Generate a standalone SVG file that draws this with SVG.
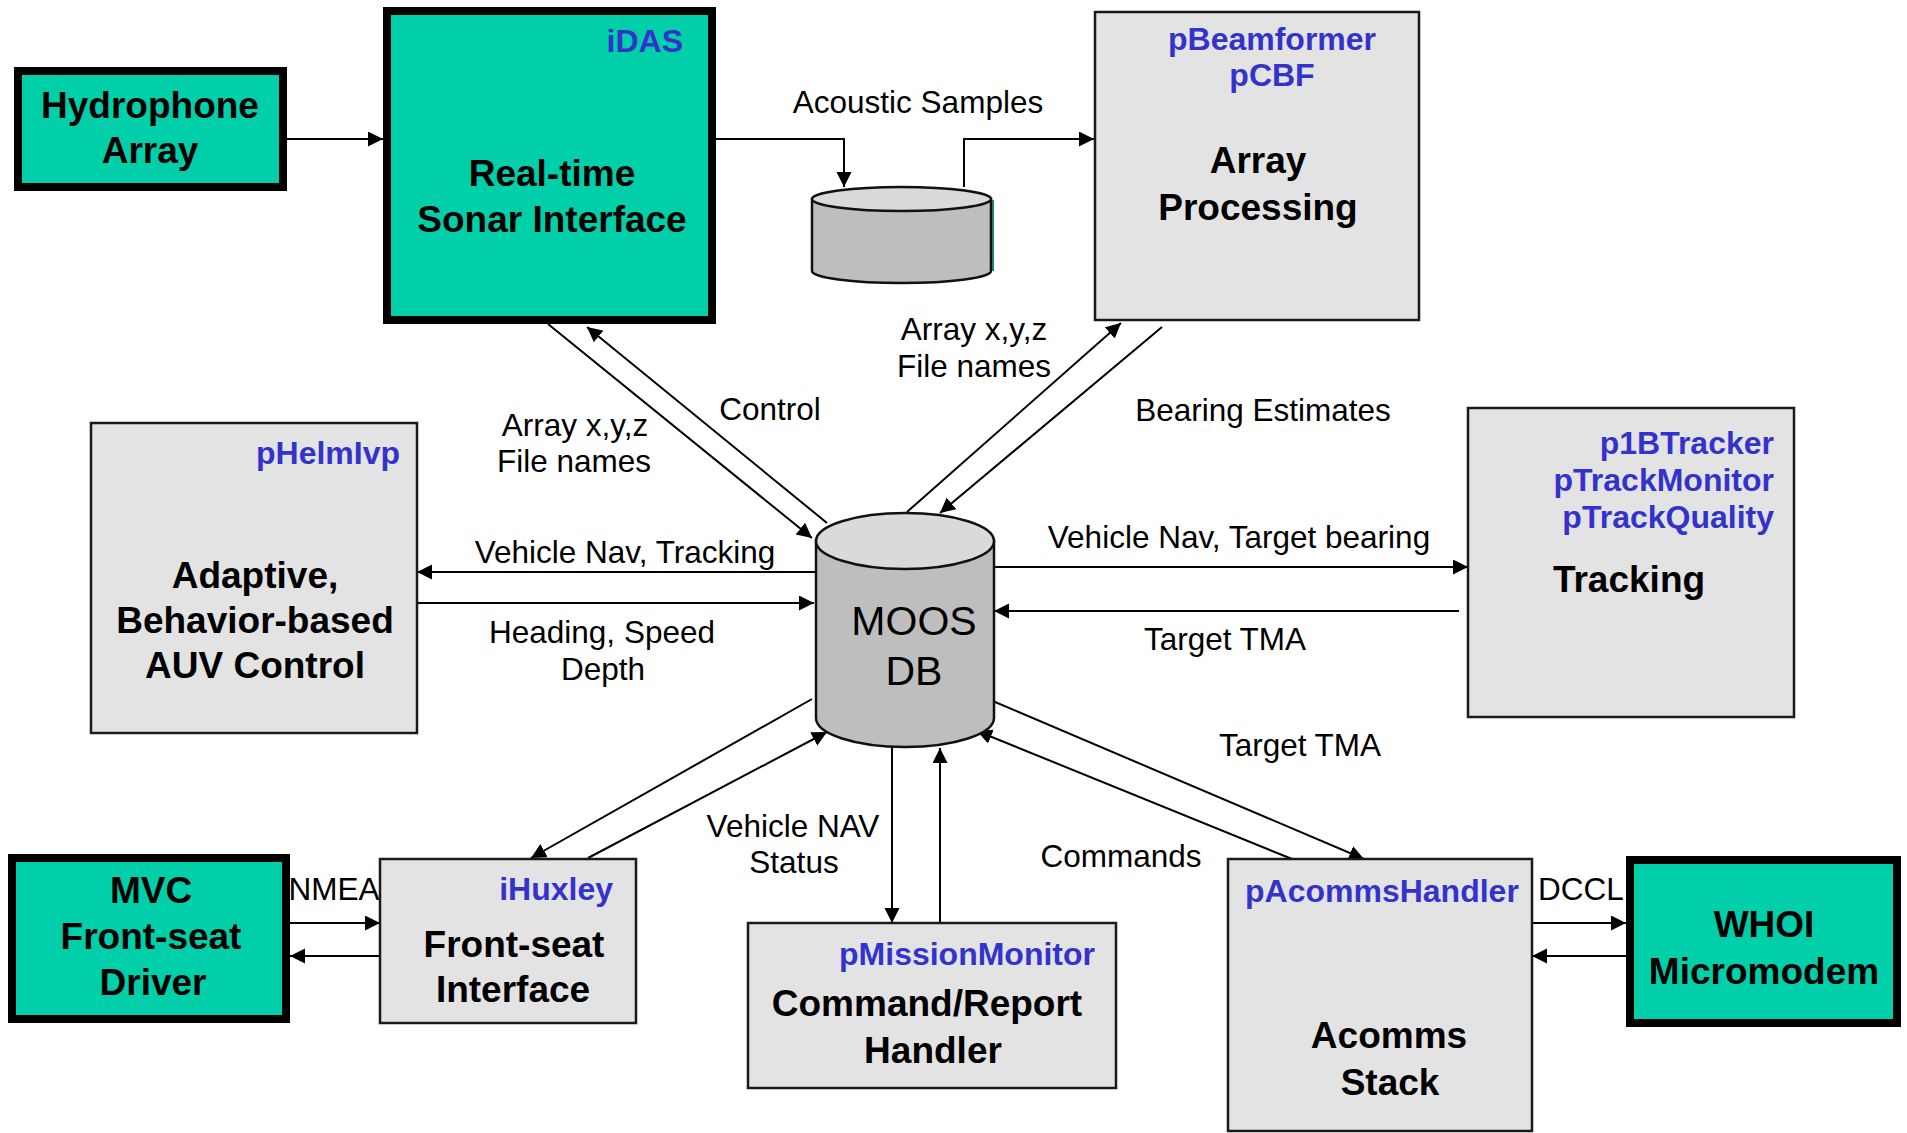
<svg xmlns="http://www.w3.org/2000/svg" width="1907" height="1133" viewBox="0 0 1907 1133">
  <defs>
    <marker id="arrow" markerUnits="userSpaceOnUse" markerWidth="16" markerHeight="16" refX="15" refY="7.5" orient="auto">
      <path d="M0,0 L15,7.5 L0,15 Z" fill="#000"/>
    </marker>
    <style>
      .hw { fill: #00CFA9; stroke: #000; stroke-width: 8; }
      .sw { fill: #E3E3E3; stroke: #1a1a1a; stroke-width: 2.5; }
      .title { font-family: "Liberation Sans", Arial, sans-serif; font-weight: bold; font-size: 37px; fill: #000; text-anchor: middle; }
      .app { font-family: "Liberation Sans", Arial, sans-serif; font-weight: bold; font-size: 32px; fill: #3333CC; }
      .lbl { font-family: "Liberation Sans", Arial, sans-serif; font-size: 31.5px; fill: #000; text-anchor: middle; }
      .db { font-family: "Liberation Sans", Arial, sans-serif; font-size: 41px; fill: #000; text-anchor: middle; }
      .conn line, .conn path { stroke: #000; stroke-width: 2; fill: none; marker-end: url(#arrow); }
      .cyl-side { fill: #BEBEBE; stroke: #111; stroke-width: 2.5; }
      .cyl-top { fill: #DADADA; stroke: #111; stroke-width: 2.5; }
    </style>
  </defs>

  <rect width="1907" height="1133" fill="#fff"/>

  <!-- connectors -->
  <g id="connectors" class="conn">
    <line x1="287" y1="139" x2="383" y2="139"/>
    <path d="M716,139 H844 V187"/>
    <path d="M964,187 V139 H1094"/>
    <line x1="548" y1="324" x2="812" y2="538"/>
    <line x1="827" y1="523" x2="587" y2="327"/>
    <line x1="907" y1="512" x2="1121" y2="323"/>
    <line x1="1162" y1="327" x2="940" y2="513"/>
    <line x1="816" y1="572" x2="417" y2="572"/>
    <line x1="415" y1="603" x2="814" y2="603"/>
    <line x1="994" y1="567" x2="1468" y2="567"/>
    <line x1="1459" y1="611" x2="994" y2="611"/>
    <line x1="812" y1="699" x2="531" y2="858"/>
    <line x1="588" y1="858" x2="827" y2="732"/>
    <line x1="892" y1="747" x2="892" y2="923"/>
    <line x1="940" y1="923" x2="940" y2="748"/>
    <line x1="988" y1="699" x2="1364" y2="859"/>
    <line x1="1292" y1="859" x2="977" y2="731"/>
    <line x1="290" y1="923" x2="380" y2="923"/>
    <line x1="380" y1="956" x2="290" y2="956"/>
    <line x1="1532" y1="923" x2="1626" y2="923"/>
    <line x1="1626" y1="956" x2="1532" y2="956"/>
  </g>

  <!-- connector labels -->
  <g id="labels">
    <text class="lbl" x="918" y="113">Acoustic Samples</text>
    <text class="lbl" x="974" y="340">Array x,y,z</text>
    <text class="lbl" x="974" y="377">File names</text>
    <text class="lbl" x="575" y="436">Array x,y,z</text>
    <text class="lbl" x="574" y="472">File names</text>
    <text class="lbl" x="770" y="420">Control</text>
    <text class="lbl" x="1263" y="421">Bearing Estimates</text>
    <text class="lbl" x="625" y="563">Vehicle Nav, Tracking</text>
    <text class="lbl" x="602" y="643">Heading, Speed</text>
    <text class="lbl" x="603" y="680">Depth</text>
    <text class="lbl" x="1239" y="548">Vehicle Nav, Target bearing</text>
    <text class="lbl" x="1225" y="650">Target TMA</text>
    <text class="lbl" x="1300" y="756">Target TMA</text>
    <text class="lbl" x="793" y="837">Vehicle NAV</text>
    <text class="lbl" x="794" y="873">Status</text>
    <text class="lbl" x="1121" y="867">Commands</text>
    <text class="lbl" x="334" y="900">NMEA</text>
    <text class="lbl" x="1581" y="900">DCCL</text>
  </g>

  <!-- hydrophone array -->
  <g id="hydrophone">
    <rect class="hw" x="18" y="71" width="265" height="116"/>
    <text class="title" x="150" y="118">Hydrophone</text>
    <text class="title" x="150" y="163">Array</text>
  </g>

  <!-- sonar interface -->
  <g id="idas">
    <rect class="hw" x="387" y="11" width="325" height="309"/>
    <text class="app" x="683" y="52" text-anchor="end">iDAS</text>
    <text class="title" x="552" y="186">Real-time</text>
    <text class="title" x="552" y="232">Sonar Interface</text>
  </g>

  <!-- acoustic sample store -->
  <g id="sample-store">
    <path class="cyl-side" d="M812,199 V271 A89.5,12 0 0 0 991,271 V199 Z"/>
    <ellipse class="cyl-top" cx="901.5" cy="199" rx="89.5" ry="12"/>
    <line x1="993" y1="200" x2="993" y2="271" stroke="#1f7f74" stroke-width="2"/>
  </g>

  <!-- array processing -->
  <g id="beamformer">
    <rect class="sw" x="1095" y="12" width="324" height="308"/>
    <text class="app" x="1272" y="50" text-anchor="middle">pBeamformer</text>
    <text class="app" x="1272" y="86" text-anchor="middle">pCBF</text>
    <text class="title" x="1258" y="173">Array</text>
    <text class="title" x="1258" y="220">Processing</text>
  </g>

  <!-- helm -->
  <g id="helm">
    <rect class="sw" x="91" y="423" width="326" height="310"/>
    <text class="app" x="400" y="464" text-anchor="end">pHelmIvp</text>
    <text class="title" x="255" y="588">Adaptive,</text>
    <text class="title" x="255" y="633">Behavior-based</text>
    <text class="title" x="255" y="678">AUV Control</text>
  </g>

  <!-- MOOS database -->
  <g id="moosdb">
    <path class="cyl-side" d="M816,541 V718 A89,29 0 0 0 994,718 V541 Z"/>
    <ellipse class="cyl-top" cx="905" cy="541" rx="89" ry="28"/>
    <text class="db" x="914" y="635">MOOS</text>
    <text class="db" x="914" y="685">DB</text>
  </g>

  <!-- tracking -->
  <g id="tracking">
    <rect class="sw" x="1468" y="408" width="326" height="309"/>
    <text class="app" x="1774" y="454" text-anchor="end">p1BTracker</text>
    <text class="app" x="1774" y="491" text-anchor="end">pTrackMonitor</text>
    <text class="app" x="1774" y="528" text-anchor="end">pTrackQuality</text>
    <text class="title" x="1629" y="592">Tracking</text>
  </g>

  <!-- front-seat driver -->
  <g id="mvc">
    <rect class="hw" x="12" y="858" width="274" height="161"/>
    <text class="title" x="151" y="903">MVC</text>
    <text class="title" x="151" y="949">Front-seat</text>
    <text class="title" x="153" y="995">Driver</text>
  </g>

  <!-- front-seat interface -->
  <g id="ihuxley">
    <rect class="sw" x="380" y="859" width="256" height="164"/>
    <text class="app" x="613" y="900" text-anchor="end">iHuxley</text>
    <text class="title" x="514" y="957">Front-seat</text>
    <text class="title" x="513" y="1002">Interface</text>
  </g>

  <!-- mission monitor -->
  <g id="mission">
    <rect class="sw" x="748" y="923" width="368" height="165"/>
    <text class="app" x="1095" y="965" text-anchor="end">pMissionMonitor</text>
    <text class="title" x="927" y="1016">Command/Report</text>
    <text class="title" x="933" y="1063">Handler</text>
  </g>

  <!-- acomms stack -->
  <g id="acomms">
    <rect class="sw" x="1228" y="859" width="304" height="272"/>
    <text class="app" x="1245" y="902" text-anchor="start">pAcommsHandler</text>
    <text class="title" x="1389" y="1048">Acomms</text>
    <text class="title" x="1390" y="1095">Stack</text>
  </g>

  <!-- modem -->
  <g id="modem">
    <rect class="hw" x="1630" y="860" width="267" height="163"/>
    <text class="title" x="1764" y="937">WHOI</text>
    <text class="title" x="1764" y="984">Micromodem</text>
  </g>
</svg>
